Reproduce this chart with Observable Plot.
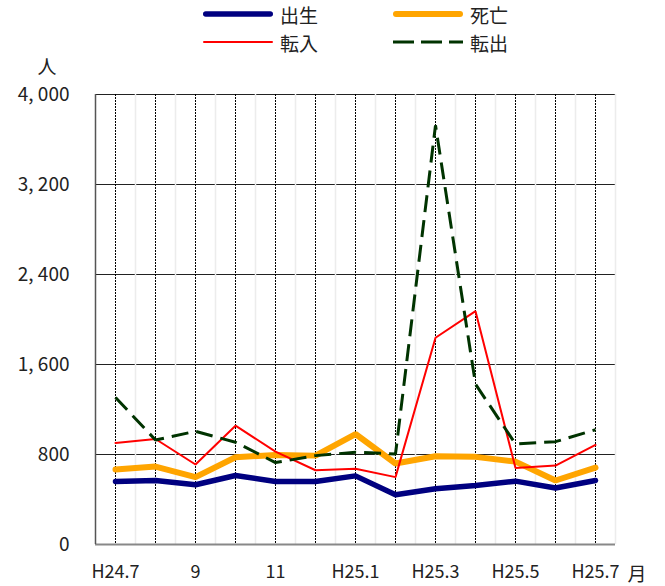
<!DOCTYPE html>
<html>
<head>
<meta charset="utf-8">
<script src="https://cdn.jsdelivr.net/npm/d3@7"></script>
<script src="https://cdn.jsdelivr.net/npm/@observablehq/plot@0.6"></script>
<style>
  body { margin: 0; background: #fff; font-family: "Noto Sans CJK JP", sans-serif; }
  #wrap { width: 665px; position: relative; }
  #legend { position: relative; height: 58px; width: 665px; font-size: 19px; color: #222; }
  .item { position: absolute; display: flex; align-items: center; height: 22px; }
  .item svg { margin-right: 7px; }
</style>
</head>
<body>
<div id="wrap">
  <div id="legend"></div>
  <div id="chart"></div>
</div>
<script>
const months = ["H24.7","8","9","10","11","12","H25.1","2","H25.3","4","H25.5","6","H25.7"];
const tickLabels = {0:"H24.7", 2:"9", 4:"11", 6:"H25.1", 8:"H25.3", 10:"H25.5", 12:"H25.7"};
const births    = [560, 569, 531, 613, 560, 560, 610, 442, 495, 525, 563, 502, 569];
const deaths    = [666, 693, 599, 776, 796, 790, 982, 720, 785, 779, 737, 569, 684];
const movesIn   = [903, 938, 711, 1056, 826, 660, 673, 599, 1838, 2074, 681, 702, 885];
const movesOut  = [1307, 929, 1006, 909, 728, 790, 820, 805, 3726, 1425, 894, 914, 1020];
const yTicks = [0, 800, 1600, 2400, 3200, 4000];

const seriesDefs = [
  {name: "出生", values: births,   stroke: "#000080", width: 5.5, dash: null},
  {name: "死亡", values: deaths,   stroke: "#FFA500", width: 6,   dash: null},
  {name: "転入", values: movesIn,  stroke: "#FF0000", width: 2,   dash: null},
  {name: "転出", values: movesOut, stroke: "#003300", width: 3,   dash: "17,8"}
];

// legend
const legendPos = [[203, 3], [393, 3], [203, 31], [393, 31]];
const legend = document.getElementById("legend");
seriesDefs.forEach((s, i) => {
  const d = document.createElement("div");
  d.className = "item";
  d.style.left = legendPos[i][0] + "px";
  d.style.top = legendPos[i][1] + "px";
  const cap = s.dash ? "butt" : "round";
  const pad = s.dash ? 0 : s.width / 2;
  d.innerHTML = `<svg width="70" height="10"><line x1="${pad}" y1="5" x2="${70 - pad}" y2="5" stroke="${s.stroke}" stroke-width="${s.width}" stroke-linecap="${cap}" ${s.dash ? `stroke-dasharray="21,7"` : ""}/></svg><span>${s.name}</span>`;
  legend.appendChild(d);
});

const rows = [];
seriesDefs.forEach(s => s.values.forEach((v, i) => rows.push({series: s.name, i, v})));

const idx = d3.range(months.length);
const bounds = d3.range(months.length - 1).map(i => i + 0.5).concat([12.5]);
const fmt = d => d3.format(",")(d).replace(",", ", ");

const marks = [
  Plot.ruleY(yTicks.filter(t => t > 0), {stroke: "#222", strokeWidth: 1}),
  Plot.ruleX(bounds, {stroke: "#ececec", strokeWidth: 1.5}),
  Plot.ruleX(idx, {stroke: "#000", strokeWidth: 1, strokeDasharray: "2,1"}),
  Plot.ruleY([0], {stroke: "#888", strokeWidth: 2}),
  Plot.ruleX([-0.5], {stroke: "#555", strokeWidth: 1.5}),
];
seriesDefs.forEach(s => {
  marks.push(Plot.line(rows.filter(r => r.series === s.name), {
    x: "i", y: "v", stroke: s.stroke, strokeWidth: s.width,
    strokeDasharray: s.dash || undefined, strokeLinejoin: "miter", strokeLinecap: s.dash ? "butt" : "round"
  }));
});
marks.push(
  Plot.axisY(yTicks, {tickSize: 0, tickPadding: 26, tickFormat: fmt, fontSize: 19, fill: "#222",
    label: null}),
  Plot.axisX(Object.keys(tickLabels).map(Number), {tickSize: 0, tickPadding: 21, tickFormat: d => tickLabels[d], fontSize: 18, fill: "#222", label: null}),
  Plot.text(["人"], {frameAnchor: "top-left", lineAnchor: "middle", dx: -58, dy: -27, fontSize: 19, fill: "#222"}),
  Plot.text(["月"], {frameAnchor: "bottom-right", lineAnchor: "middle", dx: 31, dy: 30, fontSize: 19, fill: "#222"})
);

const chart = Plot.plot({
  width: 665,
  height: 528,
  marginLeft: 95,
  marginRight: 50,
  marginTop: 36,
  marginBottom: 42,
  style: {fontFamily: '"Noto Sans CJK JP", sans-serif', background: "#fff", overflow: "visible"},
  x: {domain: [-0.5, 12.5], axis: null},
  y: {domain: [0, 4000], axis: null},
  marks
});
document.getElementById("chart").appendChild(chart);
</script>
</body>
</html>
